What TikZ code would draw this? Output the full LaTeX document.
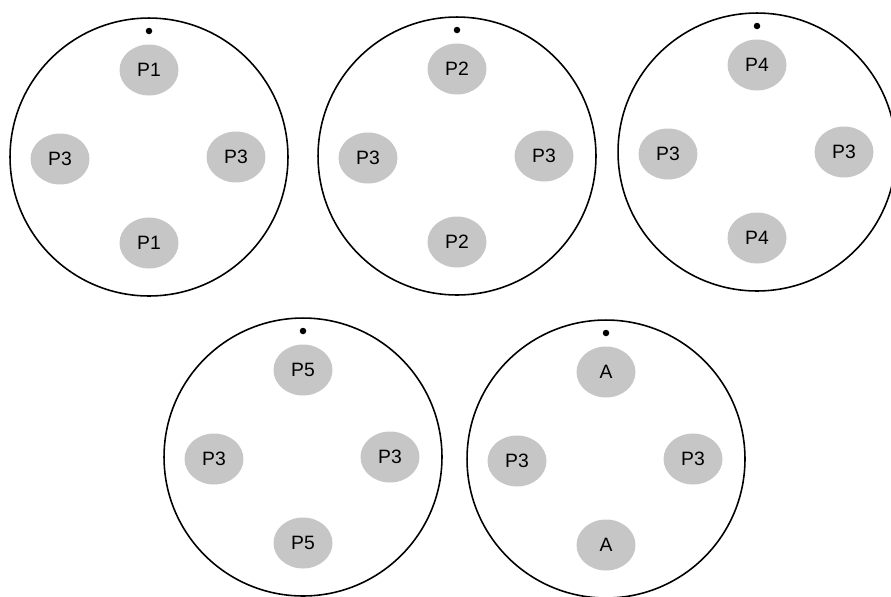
\documentclass[tikz,border=0pt]{standalone}
\usepackage{fontspec}
\setmainfont{Liberation Sans}
\usepackage{tikz}
\usetikzlibrary{shapes.geometric}

\tikzset{
	ring/.style={circle, draw=black, line width=0.9pt, minimum size=5.56cm, inner sep=0pt},
	pad/.style={ellipse, fill=gray!45, minimum width=1.18cm, minimum height=1.02cm, inner sep=0pt, font=\fontsize{11}{13}\selectfont},
	marker/.style={circle, fill=black, minimum size=0.13cm, inner sep=0pt}
}

\begin{document}
\begin{tikzpicture}[x=0.02cm, y=0.02cm]
		\useasboundingbox (0,0) rectangle (891,-596);
		% five plates, centre x / centre y / label / name
		\foreach \cx/\cy/\lab/\n in {149/-157/P1/a, 457/-156/P2/b, 757/-152/P4/c, 303/-457/P5/d, 606/-459/A/e}{
			\node[ring] (ring\n) at (\cx,\cy) {};
			\node[marker] (dot\n) at (\cx,\cy+126) {};
			\node[pad] (top\n) at (\cx,\cy+87) {\lab};
			\node[pad] (bot\n) at (\cx,\cy-86) {\lab};
			\node[pad] (lft\n) at (\cx-89,\cy-2) {P3};
			\node[pad] (rgt\n) at (\cx+87,\cy) {P3};
		}
	\end{tikzpicture}
\end{document}
